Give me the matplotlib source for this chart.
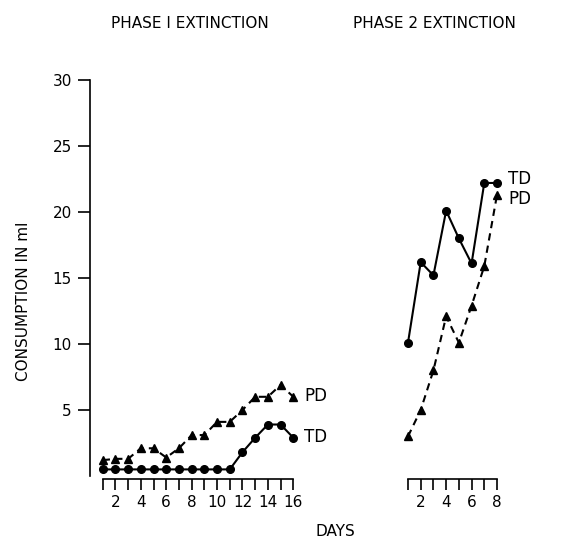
import matplotlib
matplotlib.use("Agg")
import matplotlib.pyplot as plt

# Phase 1 extinction (days 1-16)
days1 = list(range(1, 17))
td1 = [0.5, 0.5, 0.5, 0.5, 0.5, 0.5, 0.5, 0.5, 0.5, 0.5, 0.5, 1.8, 2.9, 3.9, 3.9, 2.9]
pd1 = [1.2, 1.3, 1.3, 2.1, 2.1, 1.4, 2.1, 3.1, 3.1, 4.1, 4.1, 5.0, 6.0, 6.0, 6.9, 6.0]

# Phase 2 extinction (days 1-8)
days2 = list(range(1, 9))
td2 = [10.1, 16.2, 15.2, 20.1, 18.0, 16.1, 22.2, 22.2]
pd2 = [3.0, 5.0, 8.0, 12.1, 10.1, 12.9, 15.9, 21.3]

yticks = [5, 10, 15, 20, 25, 30]

W, H = 576, 542
fig = plt.figure(figsize=(W / 100, H / 100), dpi=100)
plt.rcParams['font.family'] = ['DejaVu Sans']
FS = 11

def fx(x):
    return x / W

def fy(y):
    return 1 - y / H

ax1 = fig.add_axes([fx(90), fy(476), (293.3 - 90) / W, (476 - 80) / H])
ax2 = fig.add_axes([fx(408), fy(476), (497 - 408) / W, (476 - 80) / H])

line_kw = dict(color='black', lw=1.5, clip_on=False)
ax1.plot(days1, pd1, ls=(0, (3.5, 2.5)), marker='^', ms=5.5, **line_kw)
ax1.plot(days1, td1, ls='-', marker='o', ms=5.5, **line_kw)
ax2.plot(days2, pd2, ls=(0, (3.5, 2.5)), marker='^', ms=5.5, **line_kw)
ax2.plot(days2, td2, ls='-', marker='o', ms=5.5, **line_kw)

for ax, days in ((ax1, days1), (ax2, days2)):
    ax.set_ylim(0, 30)
    ax.set_xlim(days[0] - 1 if ax is ax1 else days[0], days[-1])
    ax.spines['top'].set_visible(False)
    ax.spines['right'].set_visible(False)
    ax.spines['bottom'].set_bounds(days[0], days[-1])
    ax.spines['bottom'].set_position(('outward', 2))
    ax.spines['bottom'].set_linewidth(1.2)
    ax.set_xticks(days)
    ax.set_xticklabels([str(d) if d % 2 == 0 else '' for d in days], fontsize=FS)
    ax.tick_params(axis='x', direction='out', length=8, width=1.2, pad=4)
    ax.patch.set_alpha(0)

ax1.spines['left'].set_linewidth(1.2)
ax1.set_yticks(yticks)
ax1.set_yticklabels([str(v) for v in yticks], fontsize=FS)
ax1.tick_params(axis='y', direction='out', length=9, width=1.2, pad=4)

ax2.spines['left'].set_visible(False)
ax2.set_yticks([])

fig.text(fx(190), fy(23), 'PHASE I EXTINCTION', ha='center', va='center', fontsize=FS)
fig.text(fx(434), fy(23), 'PHASE 2 EXTINCTION', ha='center', va='center', fontsize=FS)
fig.text(fx(24), fy(301), 'CONSUMPTION IN ml', ha='center', va='center', rotation=90, fontsize=FS)
fig.text(fx(335), fy(532), 'DAYS', ha='center', va='center', fontsize=FS)

fig.text(fx(304), fy(396), 'PD', ha='left', va='center', fontsize=FS + 1)
fig.text(fx(304), fy(437), 'TD', ha='left', va='center', fontsize=FS + 1)
fig.text(fx(508), fy(179), 'TD', ha='left', va='center', fontsize=FS + 1)
fig.text(fx(508), fy(199), 'PD', ha='left', va='center', fontsize=FS + 1)

fig.savefig('out.png', dpi=100, facecolor='white')
